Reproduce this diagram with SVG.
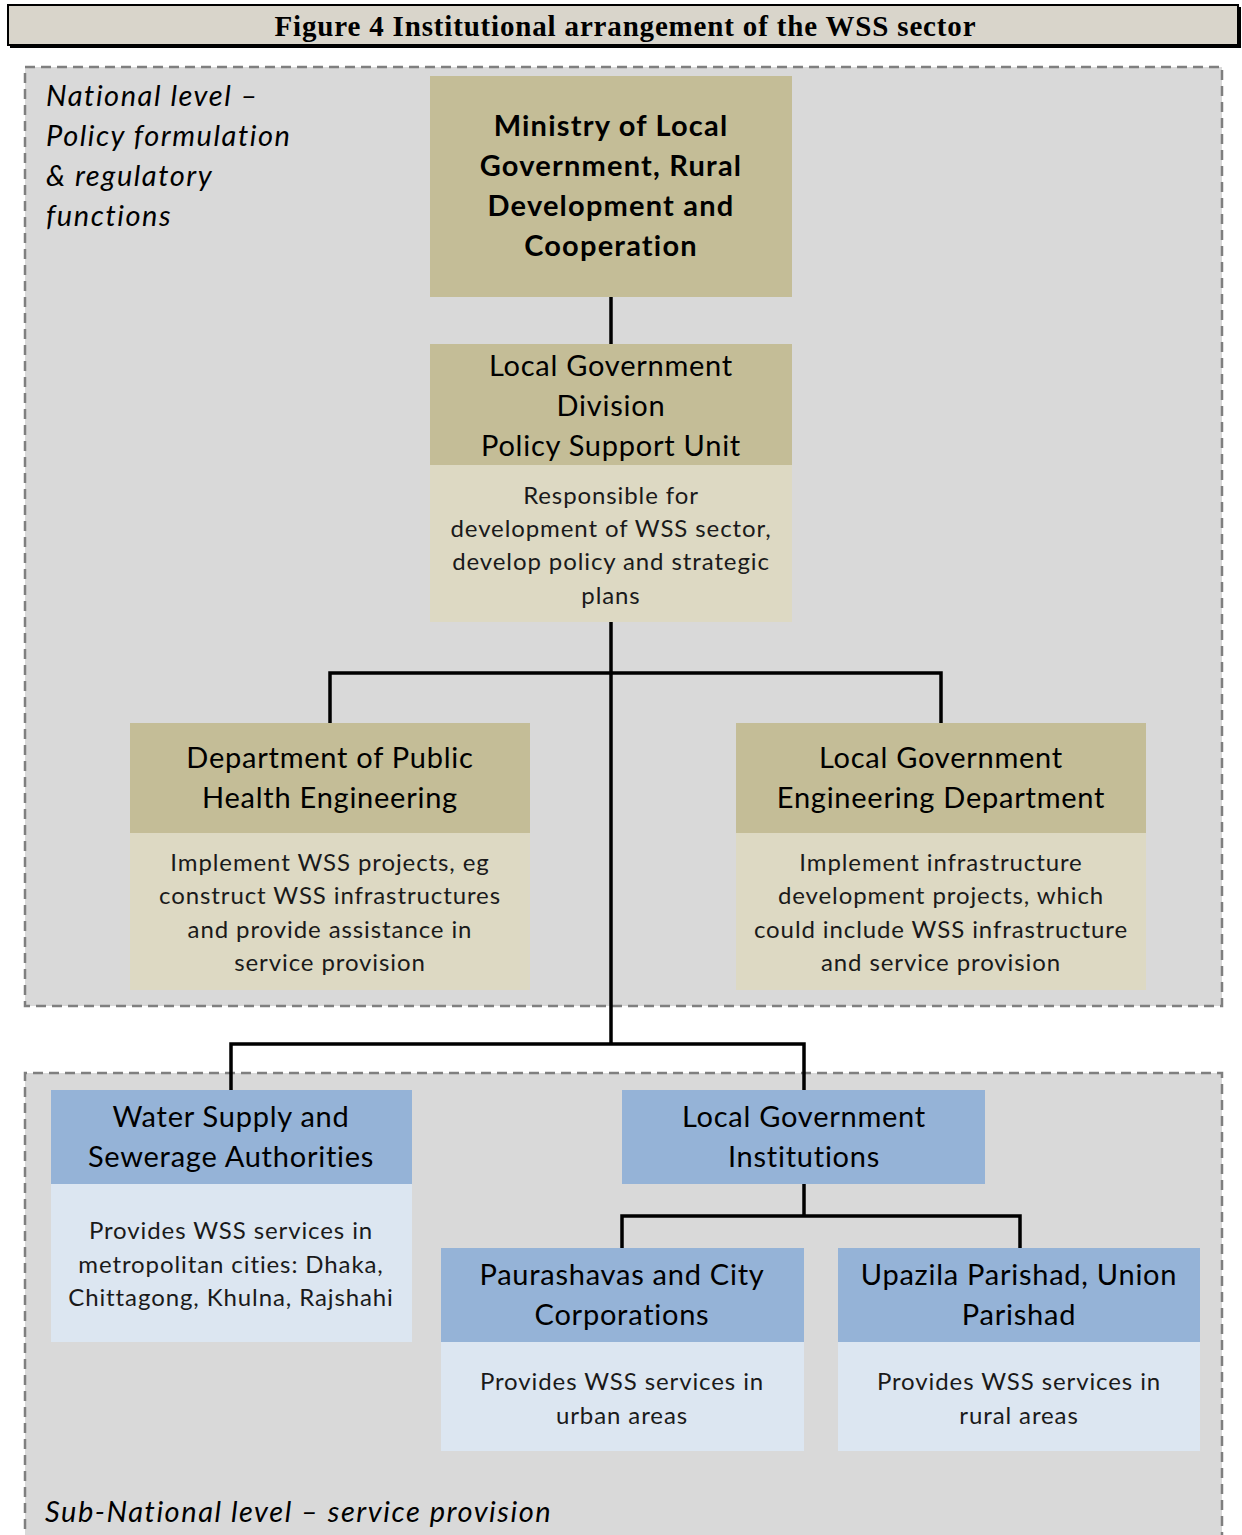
<svg xmlns="http://www.w3.org/2000/svg" width="1242" height="1535" viewBox="0 0 1242 1535">
<style>
.t{font-family:Lato,"Liberation Sans",sans-serif;fill:#000;text-anchor:middle}
.h{font-size:29px;letter-spacing:0.75px}
.hb{font-size:29px;font-weight:bold;letter-spacing:1.2px}
.b{font-size:24px;fill:#1a1a1a;letter-spacing:0.9px}
.lbl{font-family:Lato,"Liberation Sans",sans-serif;font-style:italic;font-size:29px;fill:#000;letter-spacing:1.55px}
.tan{fill:#c4bd97}
.tanl{fill:#ddd9c3}
.blu{fill:#95b3d7}
.blul{fill:#dce6f1}
.zone{fill:#d9d9d9;stroke:#7f7f7f;stroke-width:2.5;stroke-dasharray:10,6}
.c{fill:none;stroke:#000;stroke-width:3.5}
</style>
<rect x="0" y="0" width="1242" height="1535" fill="#fff"/>
<g id="title">
<rect x="10" y="7" width="1231" height="41" fill="#000"/>
<rect x="8" y="5" width="1230" height="40" fill="#d9d5cb" stroke="#000" stroke-width="2"/>
<text x="625" y="36" font-family="'Liberation Serif',serif" font-weight="bold" font-size="29" text-anchor="middle" textLength="701" lengthAdjust="spacing">Figure 4 Institutional arrangement of the WSS sector</text>
</g>
<g id="national-zone">
<rect class="zone" x="25" y="67" width="1197" height="939"/>
<text class="lbl" x="46" y="106">National level –</text>
<text class="lbl" x="46" y="146">Policy formulation</text>
<text class="lbl" x="46" y="186">&amp; regulatory</text>
<text class="lbl" x="46" y="226">functions</text>
</g>
<g id="subnational-zone">
<path d="M25,1545 V1073 H1222 V1545" fill="#d9d9d9" stroke="#7f7f7f" stroke-width="2.5" stroke-dasharray="10,6"/>
<text class="lbl" x="45" y="1522">Sub-National level – service provision</text>
</g>
<g id="connectors">
<path class="c" d="M611,297 V344"/>
<path class="c" d="M611,622 V1044"/>
<path class="c" d="M330,723 V673 H941 V723"/>
<path class="c" d="M231,1090 V1044 H804 V1090"/>
<path class="c" d="M804,1184 V1216"/>
<path class="c" d="M622,1248 V1216 H1020 V1248"/>
</g>
<g id="ministry">
<rect class="tan" x="430" y="76" width="362" height="221"/>
<text class="t hb" x="611" y="136">Ministry of Local</text>
<text class="t hb" x="611" y="176">Government, Rural</text>
<text class="t hb" x="611" y="216">Development and</text>
<text class="t hb" x="611" y="256">Cooperation</text>
</g>
<g id="lgd">
<rect class="tan" x="430" y="344" width="362" height="121"/>
<rect class="tanl" x="430" y="465" width="362" height="157"/>
<text class="t h" x="611" y="376">Local Government</text>
<text class="t h" x="611" y="416">Division</text>
<text class="t h" x="611" y="456">Policy Support Unit</text>
<text class="t b" x="611" y="504">Responsible for</text>
<text class="t b" x="611" y="537">development of WSS sector,</text>
<text class="t b" x="611" y="570">develop policy and strategic</text>
<text class="t b" x="611" y="604">plans</text>
</g>
<g id="dphe">
<rect class="tan" x="130" y="723" width="400" height="110"/>
<rect class="tanl" x="130" y="833" width="400" height="157"/>
<text class="t h" x="330" y="768">Department of Public</text>
<text class="t h" x="330" y="808">Health Engineering</text>
<text class="t b" x="330" y="871">Implement WSS projects, eg</text>
<text class="t b" x="330" y="904">construct WSS infrastructures</text>
<text class="t b" x="330" y="938">and provide assistance in</text>
<text class="t b" x="330" y="971">service provision</text>
</g>
<g id="lged">
<rect class="tan" x="736" y="723" width="410" height="110"/>
<rect class="tanl" x="736" y="833" width="410" height="157"/>
<text class="t h" x="941" y="768">Local Government</text>
<text class="t h" x="941" y="808">Engineering Department</text>
<text class="t b" x="941" y="871">Implement infrastructure</text>
<text class="t b" x="941" y="904">development projects, which</text>
<text class="t b" x="941" y="938">could include WSS infrastructure</text>
<text class="t b" x="941" y="971">and service provision</text>
</g>
<g id="wssa">
<rect class="blu" x="51" y="1090" width="361" height="94"/>
<rect class="blul" x="51" y="1184" width="361" height="158"/>
<text class="t h" x="231" y="1127">Water Supply and</text>
<text class="t h" x="231" y="1167">Sewerage Authorities</text>
<text class="t b" x="231" y="1239">Provides WSS services in</text>
<text class="t b" x="231" y="1273">metropolitan cities: Dhaka,</text>
<text class="t b" x="231" y="1306">Chittagong, Khulna, Rajshahi</text>
</g>
<g id="lgi">
<rect class="blu" x="622" y="1090" width="363" height="94"/>
<text class="t h" x="804" y="1127">Local Government</text>
<text class="t h" x="804" y="1167">Institutions</text>
</g>
<g id="paurashavas">
<rect class="blu" x="441" y="1248" width="363" height="94"/>
<rect class="blul" x="441" y="1342" width="363" height="109"/>
<text class="t h" x="622" y="1285">Paurashavas and City</text>
<text class="t h" x="622" y="1325">Corporations</text>
<text class="t b" x="622" y="1390">Provides WSS services in</text>
<text class="t b" x="622" y="1424">urban areas</text>
</g>
<g id="upazila">
<rect class="blu" x="838" y="1248" width="362" height="94"/>
<rect class="blul" x="838" y="1342" width="362" height="109"/>
<text class="t h" x="1019" y="1285">Upazila Parishad, Union</text>
<text class="t h" x="1019" y="1325">Parishad</text>
<text class="t b" x="1019" y="1390">Provides WSS services in</text>
<text class="t b" x="1019" y="1424">rural areas</text>
</g>
</svg>
